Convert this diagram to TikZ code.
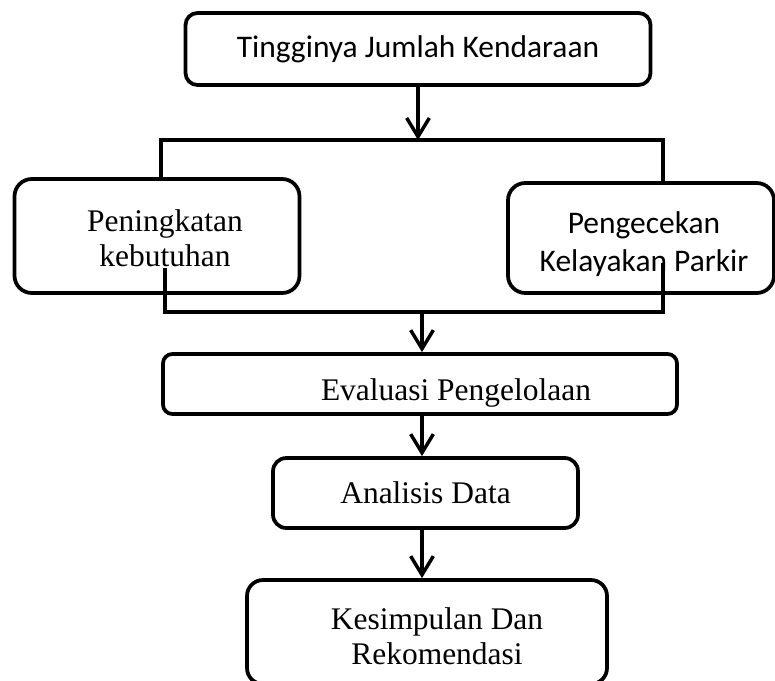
\documentclass[tikz,border=0pt]{standalone}
\usepackage{fontspec}
\setmainfont{Liberation Serif}
\newfontfamily\calibfont{Carlito}
\usetikzlibrary{positioning,arrows.meta}

\begin{document}
\begin{tikzpicture}[x=0.75pt, y=-0.75pt,
  box/.style={draw, line width=2.8pt, rounded corners=10pt, inner sep=0pt, align=center, font=\fontsize{23.6}{26}\selectfont},
  sans/.style={font=\fontsize{23.6}{28.5}\selectfont\calibfont},
  txt/.style={inner sep=0pt, align=center, font=\fontsize{23.6}{26}\selectfont},
  conn/.style={line width=2.6pt},
  >={Straight Barb[length=14pt, width=17pt]}]
\useasboundingbox (0,0) rectangle (775,681);
\clip (0,0) rectangle (775,681);
% boxes
\node[box, sans, minimum width=348.75pt, minimum height=54pt, rounded corners=9pt] (jumlah) at (418,49) {Tingginya Jumlah Kendaraan};
\node[box, minimum width=213.75pt, minimum height=85.5pt, rounded corners=13pt] (butuh) at (157,236) {};
\node[txt] (butuhtxt) at (165,238) {Peningkatan\\kebutuhan};
\node[box, minimum width=199.5pt, minimum height=82.5pt, rounded corners=13pt] (parkir) at (641,238) {};
\node[txt, sans] (parkirtxt) at (644,244) {Pengecekan\\Kelayakan Parkir};
\node[box, minimum width=385.5pt, minimum height=45pt, rounded corners=7pt] (eval) at (420,384) {};
\node[txt, anchor=base] (evaltxt) at (456,400) {Evaluasi Pengelolaan};
\node[box, minimum width=228.75pt, minimum height=52.5pt] (analisis) at (425.5,493) {Analisis Data};
\node[box, minimum width=270pt, minimum height=78pt, rounded corners=12pt] (simpul) at (427,632) {};
\node[txt] (simpultxt) at (437,636) {Kesimpulan Dan\\Rekomendasi};
% split and join points
\coordinate (split) at (418,140);
\coordinate (splitL) at (161,140);
\coordinate (splitR) at (663,140);
\coordinate (joinL) at (165,268);
\coordinate (joinR) at (663,263);
\coordinate (join) at (422,312);
\draw[->, conn] (jumlah) -- (split);
\draw[conn] (splitL |- butuh.north) -- (splitL) -- (splitR) -- (splitR |- parkir.north);
\draw[conn] (joinL) -- (joinL |- join) -- (joinR |- join) -- (joinR);
\draw[->, conn] (join) -- (join |- eval.north);
\draw[->, conn] (join |- eval.south) -- (join |- analisis.north);
\draw[->, conn] (join |- analisis.south) -- (join |- simpul.north);
\end{tikzpicture}
\end{document}
